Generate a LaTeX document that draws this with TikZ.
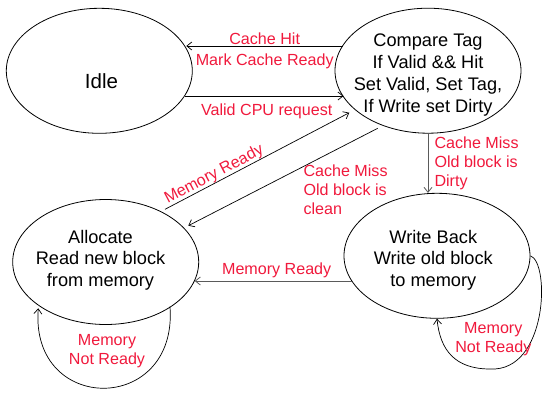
\documentclass[tikz,border=0pt]{standalone}
\usepackage{fontspec}
\setmainfont{Liberation Sans}
\usetikzlibrary{shapes.geometric,arrows.meta,calc}
\definecolor{lblred}{RGB}{240,25,60}
\definecolor{linegray}{RGB}{90,90,90}
\begin{document}
\begin{tikzpicture}[x=1pt, y=-1pt,
  >={Straight Barb[length=5pt,width=8pt]},
  state/.style={ellipse, draw, line width=0.8pt, minimum width=186pt,
    minimum height=125pt, inner sep=0pt},
  statetext/.style={align=center, inner sep=0pt,
    font=\fontsize{18.2}{21.7}\selectfont},
  edgelbl/.style={text=lblred, inner sep=0pt,
    font=\fontsize{16.1}{19}\selectfont},
  trans/.style={->, line width=0.7pt},
  graytrans/.style={->, line width=0.8pt, draw=linegray}]

\useasboundingbox (0,0) rectangle (542,392);

% states
\node[state] (idle)  at (99.3,70.8) {};
\node[state] (cmp)   at (428,70.7) {};
\node[state] (alloc) at (105.7,262) {};
\node[state] (wb)    at (437,255.8) {};

\node[inner sep=0pt, font=\fontsize{20.5}{24}\selectfont] (idletxt) at (101.5,80.7) {Idle};
\node[statetext] (cmptxt) at (428,75)
  {Compare Tag\\If Valid \&\& Hit\\Set Valid, Set Tag,\\If Write set Dirty};
\node[statetext] (alloctxt) at (100.5,260.2) {Allocate\\Read new block\\from memory};
\node[statetext] (wbtxt) at (433.3,260.2) {Write Back\\Write old block\\to memory};

% Compare Tag -> Idle
\draw[trans] ($(cmp)+(-85.4,-24.7)$) -- ($(idle)+(87,-24.8)$);
\node[edgelbl, align=center, font=\fontsize{16.1}{21}\selectfont] (hitlbl)
  at (264.7,50.5) {Cache Hit\\Mark Cache Ready};

% Idle -> Compare Tag
\draw[trans] ($(idle)+(86,25.2)$) -- ($(cmp)+(-84.5,25.3)$);
\node[edgelbl] (cpulbl) at (266.7,111) {Valid CPU request};

% Allocate -> Compare Tag
\draw[trans] ($(alloc)+(59.3,-52.7)$) -- ($(cmp)+(-78.7,42)$);
\node[edgelbl, rotate=27.7] (memlblA) at (214.2,174.6) {Memory Ready};

% Compare Tag -> Allocate
\draw[trans] ($(cmp)+(-50.3,57.6)$) -- ($(alloc)+(82.6,-36.3)$);
\node[edgelbl, align=left, anchor=west] (cleanlbl) at (303.3,189.5)
  {Cache Miss\\Old block is\\clean};

% Compare Tag -> Write Back
\draw[graytrans] (cmp.south) -- (cmp.south |- wb.north);
\node[edgelbl, align=left, anchor=west] (dirtylbl) at (434.3,163.8)
  {Cache Miss\\Old block is\\Dirty};

% Write Back -> Allocate
\draw[graytrans] ($(wb)+(-85.1,25.2)$) -- ($(alloc)+(89,19)$);
\node[edgelbl] (memlblB) at (276.7,270) {Memory Ready};

% Allocate self loop
\draw[trans] ($(alloc)+(64.3,44.7)$)
  .. controls ($(alloc)+(72.3,153)$) and ($(alloc)+(-75.7,153)$)
  .. ($(alloc)+(-67.4,46.3)$);
\node[edgelbl, align=center, font=\fontsize{16.1}{18.3}\selectfont] (looplblA)
  at (107,351) {Memory\\Not Ready};

% Write Back self loop
\draw[trans] (wb.east)
  .. controls ($(wb)+(113,6.2)$) and ($(wb)+(111,116.2)$)
  .. ($(wb)+(53,113.2)$)
  .. controls ($(wb)+(18,113.2)$) and ($(wb)+(3,94.2)$)
  .. (wb.south);
\node[edgelbl, align=center, font=\fontsize{16.1}{18.4}\selectfont] (looplblB)
  at (493.3,339.2) {Memory\\Not Ready};

\end{tikzpicture}
\end{document}
